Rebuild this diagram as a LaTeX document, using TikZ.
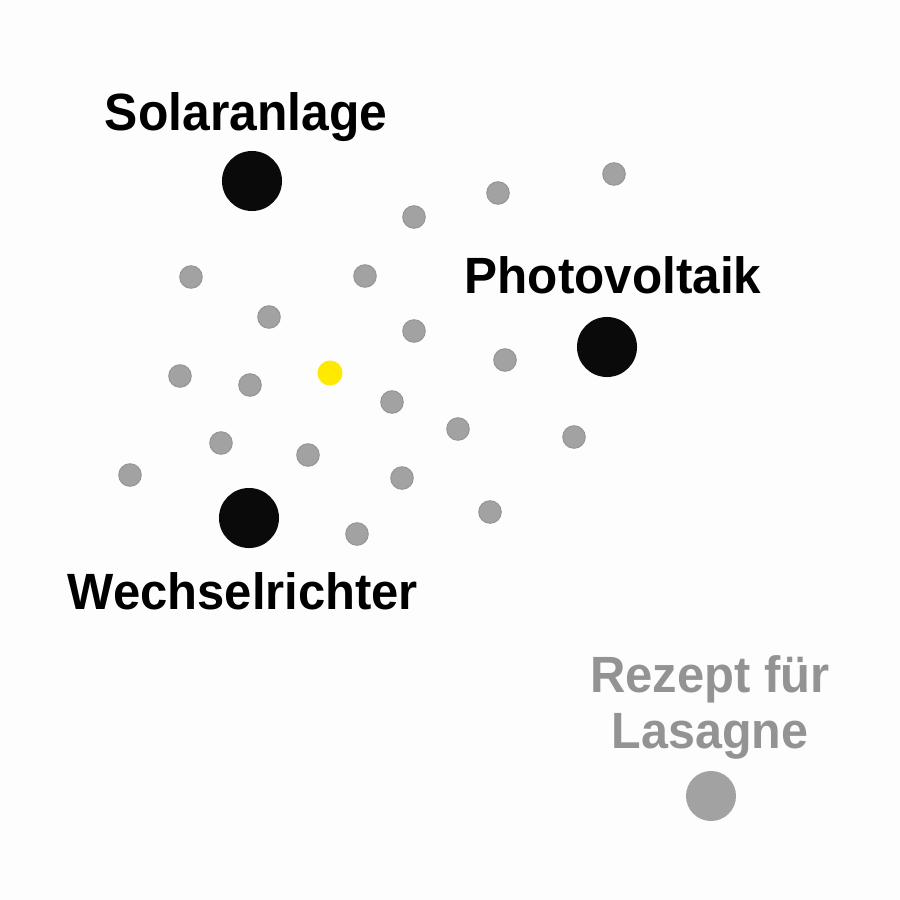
\documentclass[tikz,border=0pt]{standalone}
\usepackage{fontspec}
\setmainfont{Liberation Sans}
\definecolor{bgc}{HTML}{FDFDFD}
\definecolor{dotgray}{HTML}{A2A2A2}
\definecolor{dotedge}{HTML}{969696}
\definecolor{txtgray}{HTML}{939393}
\definecolor{hiyellow}{HTML}{FFE900}
\definecolor{bigblack}{HTML}{0A0A0A}
\tikzset{
  smalldot/.style={circle, fill=dotgray, draw=dotedge, line width=0.3pt, minimum size=0.225cm, inner sep=0pt},
  bigdot/.style={circle, fill=bigblack, minimum size=0.6cm, inner sep=0pt},
  yeldot/.style={circle, fill=hiyellow, minimum size=0.25cm, inner sep=0pt},
  lasdot/.style={circle, fill=dotgray, minimum size=0.5cm, inner sep=0pt},
  biglabel/.style={anchor=base, inner sep=0pt, text=black, font=\fontsize{14.5pt}{16pt}\selectfont\bfseries},
  graylabel/.style={anchor=base, inner sep=0pt, text=txtgray, font=\fontsize{14.5pt}{16pt}\selectfont\bfseries}
}
\begin{document}
\begin{tikzpicture}[x=0.01cm, y=-0.01cm]
\path[fill=bgc, use as bounding box] (0,0) rectangle (900,900);
% labels
\node[biglabel, font=\fontsize{14.9pt}{16pt}\selectfont\bfseries] (solarlbl) at (246,130) {\scalebox{0.95}[1]{Solaranlage}};
\node[biglabel] (pvlbl) at (613,293) {\scalebox{0.97}[1]{Photovoltaik}};
\node[biglabel] (wrlbl) at (243,609) {\scalebox{0.96}[1]{Wechselrichter}};
\node[graylabel] (rezlbl) at (710,692) {\scalebox{0.96}[1]{Rezept für}};
\node[graylabel] (laslbl) at (710,748) {\scalebox{0.95}[1]{Lasagne}};
% big dots
\node[bigdot] (solar) at (252,181) {};
\node[bigdot] (pv) at (607,347) {};
\node[bigdot] (wr) at (249,518) {};
\node[lasdot] (las) at (711,796) {};
\node[yeldot] (query) at (330,373) {};
% small gray dots
\node[smalldot] (d1) at (614,174) {};
\node[smalldot] (d2) at (498,193) {};
\node[smalldot] (d3) at (414,217) {};
\node[smalldot] (d4) at (191,277) {};
\node[smalldot] (d5) at (365,276) {};
\node[smalldot] (d6) at (269,317) {};
\node[smalldot] (d7) at (414,331) {};
\node[smalldot] (d8) at (505,360) {};
\node[smalldot] (d9) at (180,376) {};
\node[smalldot] (d10) at (250,385) {};
\node[smalldot] (d11) at (392,402) {};
\node[smalldot] (d12) at (458,429) {};
\node[smalldot] (d13) at (574,437) {};
\node[smalldot] (d14) at (221,443) {};
\node[smalldot] (d15) at (308,455) {};
\node[smalldot] (d16) at (130,475) {};
\node[smalldot] (d17) at (402,478) {};
\node[smalldot] (d18) at (490,512) {};
\node[smalldot] (d19) at (357,534) {};
\end{tikzpicture}
\end{document}
